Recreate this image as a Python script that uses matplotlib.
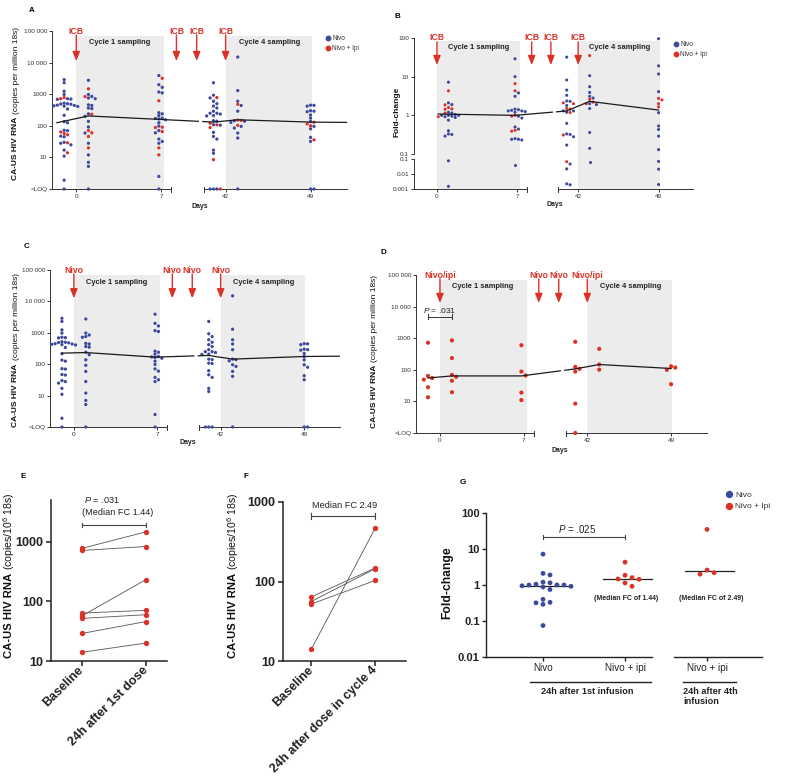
import numpy as np
import matplotlib
matplotlib.use('Agg')
import matplotlib.pyplot as plt
from matplotlib.lines import Line2D
from matplotlib.ticker import NullLocator

plt.rcParams['font.family'] = ['Liberation Sans', 'DejaVu Sans']
plt.rcParams['mathtext.fontset'] = 'custom'
plt.rcParams['mathtext.rm'] = 'Liberation Sans'
plt.rcParams['mathtext.it'] = 'Liberation Sans:italic'
plt.rcParams['mathtext.bf'] = 'Liberation Sans:bold'

W, H = 791, 776
BLUE = '#3d4a9c'
RED = '#dc3127'
SHADE = '#ececec'
INK = '#333333'

LOQ = 1.0  # plotted on the "<LOQ" row

# sampling days: baseline, 24h, day 7, pre-dose 4, 24h after dose 4, day 49
COL_DAYS = [-1, 1, 6.8, 41, 43, 49]
B_DAYS = [1, 6.8, 41, 43, 49]
DOSE_DAYS = [0, 14, 28, 42]

# --- panels A / C : CA-US HIV RNA, nivo arm
NIVO_BASE = [2900, 2300, 1240, 980, 720, 700, 690, 520, 500, 490, 480, 450, 440, 430, 420,
             410, 340, 215, 135, 125, 72, 70, 47, 45, 30, 28, 25, 17, 11, 1.9, LOQ]
NIVO_D1 = [2750, 980, 850, 760, 720, 460, 440, 365, 350, 240, 200, 138, 92, 59, 28, 12, 7, 5.2, LOQ]
NIVO_D7 = [3900, 2000, 1650, 1170, 1100, 260, 240, 210, 175, 170, 165, 155, 125, 98, 71, 60,
           38, 32, 28, 2.5, LOQ]
NIVO_D41 = [2300, 930, 760, 600, 500, 420, 365, 290, 250, 250, 235, 210, 205, 145, 140, 108,
            105, 62, 46, 38, 17, 13.5, LOQ, LOQ, LOQ]
NIVO_D43 = [15000, 1300, 600, 440, 290, 145, 140, 128, 96, 85, 59, 41, LOQ]
NIVO_D49 = [450, 445, 420, 300, 290, 280, 220, 175, 138, 96, 80, 43, 32, LOQ, LOQ]

# nivo + ipi arm (panel A)
IPI_BASE = [780, 720, 64, 57, 52, 29, 14]
IPI_D1 = [1480, 840, 233, 71, 60, 46, 20]
IPI_D7 = [3200, 620, 90, 88, 66, 20, 12]
IPI_D41 = [780, 120, 107, 88, 8.5, LOQ]
IPI_D43 = [480, 152, 148, 103]
IPI_D49 = [130, 115, 100, 36]

# panel D
D_BASE = [720, 64, 55, 49, 28, 13.5]
D_D1 = [850, 235, 69, 60, 45, 19.5]
D_D7 = [600, 88, 66, 19, 11]
D_D41 = [770, 124, 107, 88, 8.5, LOQ]
D_D43 = [460, 147, 101]
D_D49 = [129, 118, 100, 35]

# panel G (fold-change 24h after infusion), reused in B
G_NIVO = [7.2, 2.1, 1.9, 1.2, 1.15, 1.05, 1.0, 1.0, 1.0, 0.95, 0.92, 0.88, 0.75, 0.4, 0.33,
          0.32, 0.29, 0.075]
G_IPI = [4.3, 1.87, 1.6, 1.47, 1.44, 1.14, 0.92]
G_IPI4 = [35, 2.6, 2.2, 2.0]
G_MED = [0.93, 1.44, 2.49]

# panel B fold-change
B_NIVO_D1 = G_NIVO + [0.0015]
B_NIVO_D7 = [29, 10, 3.8, 3.1, 1.45, 1.4, 1.35, 1.3, 1.3, 1.25, 1.2, 0.95, 0.85, 0.5, 0.44,
             0.25, 0.24, 0.24, 0.23, 0.037]
B_NIVO_D41 = [32, 8.2, 4.5, 3.3, 2.35, 2.3, 1.8, 1.3, 1.3, 1.2, 0.62, 0.33, 0.32, 0.28, 0.17,
              0.046, 0.022, 0.0022, 0.0019]
B_NIVO_D43 = [10.6, 5.5, 3.9, 3.1, 2.8, 2.0, 1.9, 1.5, 0.36, 0.14, 0.066]
B_NIVO_D49 = [96, 19, 11.7, 4.1, 1.17, 0.53, 0.43, 0.29, 0.13, 0.069, 0.021, 0.002]
B_IPI_D7 = [6.6, 4.3, 1.0, 0.95, 0.41, 0.39]
B_IPI_D41 = [2.1, 2.0, 1.5, 1.45, 1.18, 0.31, 0.066]
B_IPI_D49 = [2.75, 2.5, 2.0, 1.65]

# median lines
MED_A_DAYS = [-1.6, 1, 6.8, 41, 43, 49, 52]
MED_A = [125, 205, 160, 131, 155, 131, 128]
MED_B_DAYS = [0.1, 1, 6.8, 41, 43, 49]
MED_B = [1.08, 1.07, 1.0, 1.3, 2.3, 1.37]
MED_C_DAYS = [-1, 1, 6.8, 41, 43, 49, 52]
MED_C = [225, 235, 168, 190, 145, 176, 180]
MED_D_DAYS = [-1, 1, 6.8, 41, 43, 49]
MED_D = [55, 64, 64, 107, 147, 110]

# panels E / F paired values
E_BASE = [780, 720, 64, 57, 52, 29, 14]
E_24H = [1480, 840, 71, 233, 60, 46, 20]
F_BASE = [64, 56, 52, 14]
F_24H = [148, 145, 103, 470]

# broken time axis: days 8..40 squeezed
LEFT_END, RIGHT_START = 7.83, 40.2
KNOT_DAY = [-1000, LEFT_END, 14, 28, RIGHT_START, 1000]
KNOT_U = [-1000, LEFT_END, 8.25, 9.92, 10.5, 970.3]


def fwd(d):
    return np.interp(d, KNOT_DAY, KNOT_U)


def inv(u):
    return np.interp(u, KNOT_U, KNOT_DAY)


fig = plt.figure(figsize=(W / 100, H / 100), dpi=100)


def fx(px):
    return px / W


def fy(py):
    return 1 - py / H


def add_ax(x0, y0, x1, y1):
    return fig.add_axes([x0 / W, 1 - y1 / H, (x1 - x0) / W, (y1 - y0) / H])


def base_style(ax, lw=0.7, size=4.6, length=2.0, color=INK):
    for s in ('top', 'right'):
        ax.spines[s].set_visible(False)
    for s in ('left', 'bottom'):
        ax.spines[s].set_linewidth(lw)
        ax.spines[s].set_color(color)
    ax.tick_params(labelsize=size, length=length, width=lw, colors=color, pad=1.5)
    ax.set_facecolor('none')


def broken_days(ax, height_px):
    ax.set_xscale('function', functions=(fwd, inv))
    ax.set_xlim(-2, 52)
    ax.spines['bottom'].set_visible(False)
    tr = ax.get_xaxis_transform()
    h = 2.5 / height_px
    for a, b in ((-2, LEFT_END), (RIGHT_START, 52)):
        ax.plot([a, b], [0, 0], transform=tr, color=INK, lw=0.7, clip_on=False)
    for x in (LEFT_END, RIGHT_START):
        ax.plot([x, x], [-h, h], transform=tr, color=INK, lw=0.7, clip_on=False)
    ax.set_xticks([0, 7, 42, 49], ['0', '7', '42', '49'])
    ax.xaxis.set_minor_locator(NullLocator())


def count_axis(ax):
    ax.set_yscale('log')
    ax.set_ylim(1, 1e5)
    ax.set_yticks([1, 10, 100, 1e3, 1e4, 1e5],
                  ['<LOQ', '10', '100', '1000', '10 000', '100 000'])
    ax.yaxis.set_minor_locator(NullLocator())


def shade(ax, top=0.97):
    for a, b in ((0, 7.25), (42, 49.1)):
        r = ax.axvspan(a, b, ymin=0, ymax=top, color=SHADE, lw=0, zorder=0)
        r.set_clip_on(False)


def dose_arrows(ax, labels, ytxt, y0, y1):
    tr = ax.get_xaxis_transform()
    for d, lab in zip(DOSE_DAYS, labels):
        ax.annotate('', xy=(d, y1), xytext=(d, y0), xycoords=tr, textcoords=tr,
                    arrowprops=dict(arrowstyle='-|>,head_length=0.55,head_width=0.22',
                                    color=RED, lw=1.0, shrinkA=0, shrinkB=0),
                    annotation_clip=False)
        ax.text(d, ytxt, lab, transform=tr, ha='center', va='center', color=RED,
                fontsize=6.2, fontweight='bold', clip_on=False)


def cycle_labels(ax, y):
    tr = ax.get_xaxis_transform()
    for x, t in ((3.6, 'Cycle 1 sampling'), (45.6, 'Cycle 4 sampling')):
        ax.text(x, y, t, transform=tr, ha='center', va='center', fontsize=5.4,
                fontweight='bold', color='#222222')


def swarm(ax, x0, vals, dx, dy):
    vals = np.asarray(vals, float)
    pts = ax.transData.transform(np.column_stack([np.full(len(vals), x0), vals]))
    xc, ys = pts[0, 0], pts[:, 1]
    offs = np.zeros(len(vals))
    placed = []
    for i in np.argsort(-ys, kind='stable'):
        for k in range(80):
            o = ((k + 1) // 2) * (1 if k % 2 else -1) * dx
            if all(abs(ys[i] - py) >= dy or abs(o - po) >= dx * 0.99 for py, po in placed):
                break
        placed.append((ys[i], o))
        offs[i] = o
    back = ax.transData.inverted().transform(np.column_stack([xc + offs, ys]))
    return back[:, 0]


def column(ax, day, groups, s, dx, dy):
    vals, cols = [], []
    for v, c in groups:
        vals += list(v)
        cols += [c] * len(v)
    if not vals:
        return
    xs = swarm(ax, day, vals, dx, dy)
    ax.scatter(xs, vals, s=s, c=cols, lw=0, zorder=3, clip_on=False)


def median_line(ax, days, meds):
    u = fwd(np.asarray(days, float))
    lv = np.log10(meds)
    ua = fwd(RIGHT_START) - 0.45
    ub = fwd(RIGHT_START) - 0.08
    uu, ll = u[u < ua], lv[u < ua]
    uu, ll = np.r_[uu, ua], np.r_[ll, np.interp(ua, u, lv)]
    ax.plot(inv(uu), 10 ** ll, color='#1a1a1a', lw=0.9, zorder=4)
    uu, ll = u[u > ub], lv[u > ub]
    uu, ll = np.r_[ub, uu], np.r_[np.interp(ub, u, lv), ll]
    ax.plot(inv(uu), 10 ** ll, color='#1a1a1a', lw=0.9, zorder=4)


def mixed_ylabel(x_px, split_py, bold, normal, sb, sn):
    fig.text(fx(x_px), fy(split_py + 1.5), bold, rotation=90, rotation_mode='anchor',
             ha='right', va='center', fontsize=sb, fontweight='bold', color='#111111')
    fig.text(fx(x_px), fy(split_py - 1.5), normal, rotation=90, rotation_mode='anchor',
             ha='left', va='center', fontsize=sn, color='#111111')


def small_legend(x_px, y_px, size, ms):
    hs = [Line2D([], [], marker='o', ls='', color=BLUE, ms=ms, label='Nivo'),
          Line2D([], [], marker='o', ls='', color=RED, ms=ms, label='Nivo + Ipi')]
    fig.legend(handles=hs, loc='upper left', bbox_to_anchor=(fx(x_px), fy(y_px)),
               frameon=False, fontsize=size, handlelength=0.8, handletextpad=0.3,
               labelspacing=0.45, borderpad=0, borderaxespad=0, labelcolor='#333333')


def panel_letter(x, y, t):
    fig.text(fx(x), fy(y), t, ha='center', va='center', fontsize=5.8, fontweight='bold')


def days_label(x, y):
    fig.text(fx(x), fy(y), 'Days', ha='center', va='center', fontsize=5, fontweight='bold',
             color='#222222')


NIVO_COLS = [NIVO_BASE, NIVO_D1, NIVO_D7, NIVO_D41, NIVO_D43, NIVO_D49]
IPI_COLS = [IPI_BASE, IPI_D1, IPI_D7, IPI_D41, IPI_D43, IPI_D49]
D_COLS = [D_BASE, D_D1, D_D7, D_D41, D_D43, D_D49]

# ---------------- A
axA = add_ax(52, 31, 347, 189)
base_style(axA)
count_axis(axA)
broken_days(axA, 158)
shade(axA)
dose_arrows(axA, ['ICB'] * 4, 1.0, 0.975, 0.81)
cycle_labels(axA, 0.93)
for d, nv, iv in zip(COL_DAYS, NIVO_COLS, IPI_COLS):
    column(axA, d, [(nv, BLUE), (iv, RED)], 5.5, 3.4, 2.9)
median_line(axA, MED_A_DAYS, MED_A)
mixed_ylabel(16, 115, 'CA-US HIV RNA', '(copies per million 18s)', 6, 6)
small_legend(325, 35, 4.7, 3.2)
days_label(200, 206)
panel_letter(32, 10, 'A')

# ---------------- B
axB = add_ax(414, 38, 693, 154)
axB2 = add_ax(414, 159, 693, 189)
base_style(axB)
base_style(axB2)
axB.set_yscale('log')
axB.set_ylim(0.1, 100)
axB.set_yticks([0.1, 1, 10, 100], ['0.1', '1', '10', '100'])
axB.yaxis.set_minor_locator(NullLocator())
axB.set_xscale('function', functions=(fwd, inv))
axB.set_xlim(-2, 52)
axB.spines['bottom'].set_visible(False)
axB.tick_params(axis='x', bottom=False, labelbottom=False)
axB2.set_yscale('log')
axB2.set_ylim(0.001, 0.1)
axB2.set_yticks([0.001, 0.01, 0.1], ['0.001', '0.01', '0.1'])
axB2.yaxis.set_minor_locator(NullLocator())
broken_days(axB2, 30)
shade(axB)
shade(axB2, top=1 + 5 / 30)
dose_arrows(axB, ['ICB'] * 4, 1.0, 0.966, 0.767)
cycle_labels(axB, 0.92)
B_NIVO = [B_NIVO_D1, B_NIVO_D7, B_NIVO_D41, B_NIVO_D43, B_NIVO_D49]
B_IPI = [G_IPI, B_IPI_D7, B_IPI_D41, G_IPI4, B_IPI_D49]
for d, nv, iv in zip(B_DAYS, B_NIVO, B_IPI):
    column(axB, d, [([v for v in nv if v >= 0.1], BLUE), ([v for v in iv if v >= 0.1], RED)],
           5, 3.4, 2.9)
    column(axB2, d, [([v for v in nv if v < 0.1], BLUE), ([v for v in iv if v < 0.1], RED)],
           5, 3.4, 2.9)
median_line(axB, MED_B_DAYS, MED_B)
fig.text(fx(397), fy(112), 'Fold-change', rotation=90, ha='center', va='center', fontsize=6,
         fontweight='bold', color='#111111')
small_legend(673, 41, 4.7, 3.2)
days_label(555, 205)
panel_letter(397, 16, 'B')

# ---------------- C
axC = add_ax(50, 270, 340, 427)
base_style(axC)
count_axis(axC)
broken_days(axC, 157)
shade(axC)
dose_arrows(axC, ['Nivo'] * 4, 1.0, 0.975, 0.82)
cycle_labels(axC, 0.92)
for d, nv in zip(COL_DAYS, NIVO_COLS):
    column(axC, d, [(nv, BLUE)], 5.5, 3.4, 2.9)
median_line(axC, MED_C_DAYS, MED_C)
mixed_ylabel(16, 362, 'CA-US HIV RNA', '(copies per million 18s)', 6, 6)
days_label(188, 443)
panel_letter(27, 247, 'C')

# ---------------- D
axD = add_ax(416, 275, 707, 433)
base_style(axD)
count_axis(axD)
broken_days(axD, 158)
shade(axD)
dose_arrows(axD, ['Nivo/ipi', 'Nivo', 'Nivo', 'Nivo/ipi'], 1.0, 0.975, 0.823)
cycle_labels(axD, 0.93)
for d, rv in zip(COL_DAYS, D_COLS):
    column(axD, d, [(rv, RED)], 9, 4.2, 4.0)
median_line(axD, MED_D_DAYS, MED_D)
pD = 4700
axD.plot([-1, 1], [pD, pD], color=INK, lw=0.7)
for x in (-1, 1):
    axD.plot([x, x], [pD / 1.2, pD * 1.2], color=INK, lw=0.7)
axD.text(0, 7800, '$P$ = .031', ha='center', va='center', fontsize=6, color='#222222')
mixed_ylabel(374, 363, 'CA-US HIV RNA', '(copies per million 18s)', 6, 6)
days_label(560, 450)
panel_letter(383, 253, 'D')


# ---------------- E / F
def paired_panel(ax, base, after, ymax, labels):
    base_style(ax, lw=1.1, size=9.0, length=3.5, color='#222222')
    ax.tick_params(pad=2)
    ax.set_yscale('log')
    ax.set_ylim(10, ymax)
    ax.set_yticks([10, 100, 1000], ['10', '100', '1000'], fontweight='bold')
    ax.yaxis.set_minor_locator(NullLocator())
    ax.set_xticks([0, 1], labels, rotation=45, ha='right', va='center',
                  rotation_mode='anchor', fontweight='bold', fontsize=9.0)
    for b, a in zip(base, after):
        ax.plot([0, 1], [b, a], color='#555555', lw=0.6, zorder=2)
    ax.scatter([0] * len(base), base, s=15, color=RED, lw=0, zorder=3, clip_on=False)
    ax.scatter([1] * len(after), after, s=15, color=RED, lw=0, zorder=3, clip_on=False)


def bracket(ax, x0, x1, y, fac):
    ax.plot([x0, x1], [y, y], color='#444444', lw=0.8, clip_on=False)
    for x in (x0, x1):
        ax.plot([x, x], [y / fac, y * fac], color='#444444', lw=0.8, clip_on=False)


axE = add_ax(51, 500, 167, 661)
axE.set_xlim(-0.48, 1.33)
paired_panel(axE, E_BASE, E_24H, 5080, ['Baseline', '24h after 1st dose'])
bracket(axE, 0, 1, 1930, 1.1)
axE.text(0.03, 1.0, '$P$ = .031', transform=axE.get_xaxis_transform(), ha='left',
         va='center', fontsize=6.6, color='#222222', clip_on=False)
axE.text(0.0, 0.925, '(Median FC 1.44)', transform=axE.get_xaxis_transform(), ha='left',
         va='center', fontsize=6.6, color='#222222')
mixed_ylabel(9, 571.5, 'CA-US HIV RNA', '(copies/10$^6$ 18s)', 8.1, 7.6)
panel_letter(23, 477, 'E')

axF = add_ax(283, 502, 406, 661)
axF.set_xlim(-0.44, 1.48)
paired_panel(axF, F_BASE, F_24H, 1000, ['Baseline', '24h after dose in cycle 4'])
bracket(axF, 0, 1, 667, 1.08)
axF.text(0.52, 0.975, 'Median FC 2.49', transform=axF.get_xaxis_transform(), ha='center',
         va='center', fontsize=6.6, color='#222222', clip_on=False)
mixed_ylabel(233, 571.5, 'CA-US HIV RNA', '(copies/10$^6$ 18s)', 8.1, 7.6)
panel_letter(246, 477, 'F')

# ---------------- G
axG = add_ax(486, 513, 762, 657)
base_style(axG, lw=1.0, size=8, length=3, color='#222222')
axG.set_yscale('log')
axG.set_ylim(0.01, 100)
axG.set_xlim(-0.695, 2.67)
axG.set_yticks([0.01, 0.1, 1, 10, 100], ['0.01', '0.1', '1', '10', '100'], fontweight='bold')
axG.yaxis.set_minor_locator(NullLocator())
axG.set_xticks([0, 1, 2], ['Nivo', 'Nivo + ipi', 'Nivo + ipi'], fontsize=7.1)
axG.tick_params(axis='x', pad=1)
axG.spines['bottom'].set_visible(False)
trG = axG.get_xaxis_transform()
for a, b in ((-0.695, 1.33), (1.6, 2.67)):
    axG.plot([a, b], [0, 0], transform=trG, color='#222222', lw=1.0, clip_on=False)
for x0, vals, c in ((0, G_NIVO, BLUE), (1, G_IPI, RED), (2, G_IPI4, RED)):
    column(axG, x0, [(vals, c)], 12, 7, 4.5)
for x0, m in zip([0, 1, 2], G_MED):
    axG.plot([x0 - 0.27, x0 + 0.33], [m, m], color='#222222', lw=0.9, zorder=2)
bracket(axG, 0, 1, 21.5, 1.17)
axG.text(0.42, 0.889, '$P$ = .025', transform=trG, ha='center', va='center', fontsize=7,
         color='#222222')
for x0, t in ((1.01, '(Median FC of 1.44)'), (2.05, '(Median FC of 2.49)')):
    axG.text(x0, 0.403, t, transform=trG, ha='center', va='center', fontsize=5,
             fontweight='bold', color='#222222')
for a, b in ((-0.16, 1.32), (1.71, 2.35)):
    axG.plot([a, b], [-0.174, -0.174], transform=trG, color='#222222', lw=1.0, clip_on=False)
axG.text(0.54, -0.243, '24h after 1st infusion', transform=trG, ha='center', va='center',
         fontsize=6.6, fontweight='bold', color='#222222')
axG.text(1.71, -0.205, '24h after 4th\ninfusion', transform=trG, ha='left', va='top',
         fontsize=6.6, fontweight='bold', color='#222222', linespacing=1.2)
fig.text(fx(447), fy(583), 'Fold-change', rotation=90, ha='center', va='center',
         fontsize=8.7, fontweight='bold', color='#111111')
hs = [Line2D([], [], marker='o', ls='', color=BLUE, ms=4.3, label='Nivo'),
      Line2D([], [], marker='o', ls='', color=RED, ms=4.3, label='Nivo + Ipi')]
fig.legend(handles=hs, loc='upper left', bbox_to_anchor=(fx(726), fy(491)), frameon=False,
           fontsize=6, handlelength=0.8, handletextpad=0.3, labelspacing=0.45, borderpad=0,
           borderaxespad=0, labelcolor='#333333')
panel_letter(463, 483, 'G')

fig.savefig('out.png', dpi=100)
